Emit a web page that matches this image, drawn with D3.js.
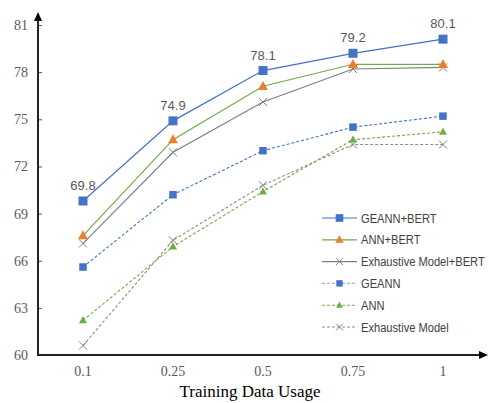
<!DOCTYPE html>
<html><head><meta charset="utf-8">
<script src="https://cdn.jsdelivr.net/npm/d3@7"></script>
<style>body{margin:0;background:#fff}svg{display:block}</style>
</head><body>
<script>
const categories = ["0.1","0.25","0.5","0.75","1"];
const yTicks = [60,63,66,69,72,75,78,81];
const seriesNames = ["GEANN+BERT","ANN+BERT","Exhaustive Model+BERT","GEANN","ANN","Exhaustive Model"];
const geannBert = [69.8,74.9,78.1,79.2,80.1];
const annBert = [67.6,73.7,77.1,78.5,78.5];
const exhBert = [67.1,72.9,76.1,78.2,78.3];
const geann = [65.6,70.2,73.0,74.5,75.2];
const ann = [62.2,66.9,70.4,73.7,74.2];
const exh = [60.6,67.3,70.8,73.4,73.4];
const labels = ["69.8","74.9","78.1","79.2","80.1"];

const W=489,H=403;
const svg=d3.select("body").append("svg").attr("width",W).attr("height",H);
const x=d3.scalePoint().domain(categories).range([38,488]).padding(0.5);
const y=d3.scaleLinear().domain([60,81]).range([355,25]);

const series=[
 {name:seriesNames[0],v:geannBert,line:"#4472C4",dash:null,marker:"square",mfill:"#4472C4",ms:9,lw:1.2},
 {name:seriesNames[1],v:annBert,line:"#70AD47",dash:null,marker:"triangle",mfill:"#ED7D31",ms:10,lw:1.2},
 {name:seriesNames[2],v:exhBert,line:"#7F7F7F",dash:null,marker:"x",mfill:"#7F7F7F",ms:8,lw:1.2},
 {name:seriesNames[3],v:geann,line:"#4472C4",dash:"3,2",marker:"square",mfill:"#4472C4",ms:7.5,lw:1.1,legLine:"#9DB5E0"},
 {name:seriesNames[4],v:ann,line:"#70AD47",dash:"3,2",marker:"triangle",mfill:"#70AD47",ms:8,lw:1.1},
 {name:seriesNames[5],v:exh,line:"#8C8C8C",dash:"3,2",marker:"x",mfill:"#7F7F7F",ms:8,lw:1.1}
];

function drawMarker(g,type,cx,cy,s,fill){
  if(type==="square"){
    g.append("rect").attr("x",cx-s/2).attr("y",cy-s/2).attr("width",s).attr("height",s).attr("fill",fill);
  } else if(type==="triangle"){
    const h=s*0.9;
    g.append("path").attr("d",`M${cx},${cy-h*0.6}L${cx+s/2},${cy+h*0.4}L${cx-s/2},${cy+h*0.4}Z`).attr("fill",fill);
  } else {
    const r=s/2;
    g.append("path").attr("d",`M${cx-r},${cy-r}L${cx+r},${cy+r}M${cx-r},${cy+r}L${cx+r},${cy-r}`).attr("stroke",fill).attr("stroke-width",1).attr("fill","none");
  }
}

// axes
const axG=svg.append("g");
const yAxis=d3.axisRight(y).tickValues(yTicks).tickSize(4).tickFormat("");
const yg=axG.append("g").attr("transform","translate(38,0)").call(yAxis);
yg.select(".domain").remove();
yg.selectAll(".tick line").attr("stroke","#555").attr("stroke-width",1);
yTicks.forEach(t=>{
  axG.append("text").attr("x",28).attr("y",y(t)+5).attr("text-anchor","end")
   .attr("font-family","Liberation Serif, Times New Roman, serif").attr("font-size",14).attr("fill","#595959").text(t);
});
categories.forEach(c=>{
  axG.append("text").attr("x",x(c)).attr("y",376).attr("text-anchor","middle")
   .attr("font-family","Liberation Serif, Times New Roman, serif").attr("font-size",14).attr("fill","#595959").text(c);
});
axG.append("text").attr("x",250).attr("y",397).attr("text-anchor","middle")
 .attr("font-family","Liberation Serif, Times New Roman, serif").attr("font-size",17).attr("fill","#000").text("Training Data Usage");

// lines
const line=d3.line().x((d,i)=>x(categories[i])).y(d=>y(d));
const gl=svg.append("g");
series.slice().reverse().forEach(s=>{
  gl.append("path").datum(s.v).attr("d",line).attr("fill","none").attr("stroke",s.line)
    .attr("stroke-width",s.lw).attr("stroke-dasharray",s.dash);
});
series.slice().reverse().forEach(s=>{
  s.v.forEach((v,i)=>drawMarker(gl,s.marker,x(categories[i]),y(v),s.ms,s.mfill));
});
geannBert.forEach((v,i)=>{
  gl.append("text").attr("x",x(categories[i])).attr("y",y(v)-11).attr("text-anchor","middle")
   .attr("font-family","Liberation Sans, Arial, sans-serif").attr("font-size",13).attr("fill","#595959").text(labels[i]);
});

// axis lines with arrows
svg.append("line").attr("x1",38).attr("y1",355).attr("x2",38).attr("y2",20).attr("stroke","#222").attr("stroke-width",2);
svg.append("path").attr("d","M38,12L42,21L34,21Z").attr("fill","#000");
svg.append("line").attr("x1",37).attr("y1",355).attr("x2",480).attr("y2",355).attr("stroke","#222").attr("stroke-width",2);
svg.append("path").attr("d","M488,355L479,351L479,359Z").attr("fill","#000");

// legend
const lg=svg.append("g");
series.forEach((s,i)=>{
  const ly=218+i*21.8;
  lg.append("line").attr("x1",322).attr("x2",357).attr("y1",ly).attr("y2",ly)
    .attr("stroke",s.legLine||s.line).attr("stroke-width",s.lw).attr("stroke-dasharray",s.dash);
  drawMarker(lg,s.marker,339.5,ly,s.ms*0.85,s.mfill);
  lg.append("text").attr("transform",`translate(361,${ly+4.5}) scale(0.89,1)`)
    .attr("font-family","Liberation Sans, Arial, sans-serif")
    .attr("font-size",12.5).attr("fill","#404040").text(s.name);
});
</script>
</body></html>
